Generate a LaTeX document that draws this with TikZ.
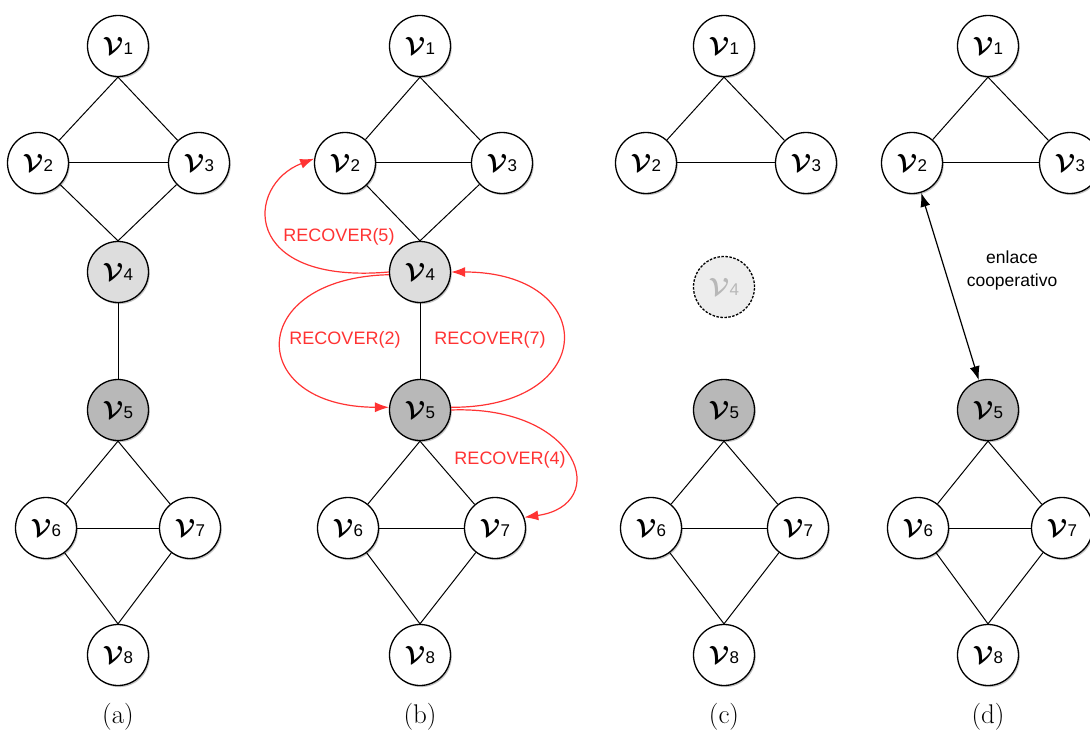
\documentclass[tikz,border=0pt]{standalone}
\usepackage{fontspec}
\usepackage{amsmath,amsbsy}
\setsansfont{Liberation Sans}
\usetikzlibrary{shadows,arrows.meta}
\newcommand{\vlab}[1]{{\fontsize{33}{33}\selectfont$\boldsymbol{\mathcal{V}}$}\kern0.3pt{\sffamily\fontsize{17}{17}\selectfont #1}}
\definecolor{recred}{HTML}{FF3333}
\definecolor{lightg}{HTML}{DDDDDD}
\definecolor{darkg}{HTML}{B8B8B8}
\begin{document}
\begin{tikzpicture}[x=1pt,y=-1pt,
  vnode/.style={circle,draw=black,line width=1.3pt,minimum size=61pt,inner sep=0pt,fill=white,
    drop shadow={shadow xshift=1.3pt,shadow yshift=-1.6pt,fill=black!45}},
  lnode/.style={vnode,fill=lightg},
  dnode/.style={vnode,fill=darkg},
  ghost/.style={circle,draw=black,line width=1.3pt,dash pattern=on 2.5pt off 1.5pt,minimum size=61pt,inner sep=0pt,fill=black!7,text=black!28},
  edge/.style={line width=1pt,black},
  rec/.style={line width=1.2pt,recred,-{Latex[length=14pt,width=10pt]}},
  reclab/.style={text=recred,font=\sffamily\fontsize{18}{18}\selectfont},
  captext/.style={font=\fontsize{27}{27}\selectfont}]
\useasboundingbox (0,0) rectangle (1090,733);
\clip (0,0) rectangle (1090,733);
% ---------- (a)
\node[vnode] (a1) at (118,46) {\vlab{1}};
\node[vnode] (a2) at (38,163) {\vlab{2}};
\node[vnode] (a3) at (199,163) {\vlab{3}};
\node[lnode] (a4) at (118,272) {\vlab{4}};
\node[dnode] (a5) at (118,410) {\vlab{5}};
\node[vnode] (a6) at (46,528) {\vlab{6}};
\node[vnode] (a7) at (190,528) {\vlab{7}};
\node[vnode] (a8) at (118,655) {\vlab{8}};
\draw[edge] (a1.south) -- (a2);
\draw[edge] (a1.south) -- (a3);
\draw[edge] (a2) -- (a3);
\draw[edge] (a2) -- (a4.north);
\draw[edge] (a3) -- (a4.north);
\draw[edge] (a4) -- (a5);
\draw[edge] (a5.south) -- (a6);
\draw[edge] (a5.south) -- (a7);
\draw[edge] (a6) -- (a7);
\draw[edge] (a6) -- (a8.north);
\draw[edge] (a7) -- (a8.north);
\node[captext] (ca) at (118,717) {(a)};
% ---------- (b)
\node[vnode] (b1) at (420,46) {\vlab{1}};
\node[vnode] (b2) at (345,163) {\vlab{2}};
\node[vnode] (b3) at (502,163) {\vlab{3}};
\node[lnode] (b4) at (420,272) {\vlab{4}};
\node[dnode] (b5) at (420,410) {\vlab{5}};
\node[vnode] (b6) at (348,528) {\vlab{6}};
\node[vnode] (b7) at (495,528) {\vlab{7}};
\node[vnode] (b8) at (420,655) {\vlab{8}};
\draw[edge] (b1.south) -- (b2);
\draw[edge] (b1.south) -- (b3);
\draw[edge] (b2) -- (b3);
\draw[edge] (b2) -- (b4.north);
\draw[edge] (b3) -- (b4.north);
\draw[edge] (b4) -- (b5);
\draw[edge] (b5.south) -- (b6);
\draw[edge] (b5.south) -- (b7);
\draw[edge] (b6) -- (b7);
\draw[edge] (b6) -- (b8.north);
\draw[edge] (b7) -- (b8.north);
\draw[rec] (b4.west) .. controls (240,285) and (245,185) .. (b2.172);
\draw[rec] (b4.185) .. controls (245,278) and (245,407) .. (b5.175);
\draw[rec] (b5.5) .. controls (600,408) and (600,272) .. (b4.east);
\draw[rec] (b5.0) .. controls (580,405) and (612,505) .. (b7.20);
\node[reclab] (l5) at (339,237) {RECOVER(5)};
\node[reclab] (l2) at (345,340) {RECOVER(2)};
\node[reclab] (l7) at (490,340) {RECOVER(7)};
\node[reclab] (l4) at (510,460) {RECOVER(4)};
\node[captext] (cb) at (420,717) {(b)};
% ---------- (c)
\node[vnode] (c1) at (724,46) {\vlab{1}};
\node[vnode] (c2) at (646,163) {\vlab{2}};
\node[vnode] (c3) at (806,163) {\vlab{3}};
\node[ghost] (c4) at (724,287) {\vlab{4}};
\node[dnode] (c5) at (724,410) {\vlab{5}};
\node[vnode] (c6) at (651,528) {\vlab{6}};
\node[vnode] (c7) at (798,528) {\vlab{7}};
\node[vnode] (c8) at (724,655) {\vlab{8}};
\draw[edge] (c1.south) -- (c2);
\draw[edge] (c1.south) -- (c3);
\draw[edge] (c2) -- (c3);
\draw[edge] (c5.south) -- (c6);
\draw[edge] (c5.south) -- (c7);
\draw[edge] (c6) -- (c7);
\draw[edge] (c6) -- (c8.north);
\draw[edge] (c7) -- (c8.north);
\node[captext] (cc) at (724,717) {(c)};
% ---------- (d)
\node[vnode] (d1) at (988,46) {\vlab{1}};
\node[vnode] (d2) at (912,163) {\vlab{2}};
\node[vnode] (d3) at (1070,163) {\vlab{3}};
\node[dnode] (d5) at (988,410) {\vlab{5}};
\node[vnode] (d6) at (918,528) {\vlab{6}};
\node[vnode] (d7) at (1062,528) {\vlab{7}};
\node[vnode] (d8) at (988,655) {\vlab{8}};
\draw[edge] (d1.south) -- (d2);
\draw[edge] (d1.south) -- (d3);
\draw[edge] (d2) -- (d3);
\draw[edge] (d5.south) -- (d6);
\draw[edge] (d5.south) -- (d7);
\draw[edge] (d6) -- (d7);
\draw[edge] (d6) -- (d8.north);
\draw[edge] (d7) -- (d8.north);
\draw[line width=1.2pt,{Latex[length=14pt,width=10pt]}-{Latex[length=14pt,width=10pt]}] (d2) -- (d5);
\node[align=center,font=\sffamily\fontsize{17.5}{23}\selectfont] (coop) at (1012,270) {enlace\\cooperativo};
\node[captext] (cd) at (988,717) {(d)};
\end{tikzpicture}
\end{document}
